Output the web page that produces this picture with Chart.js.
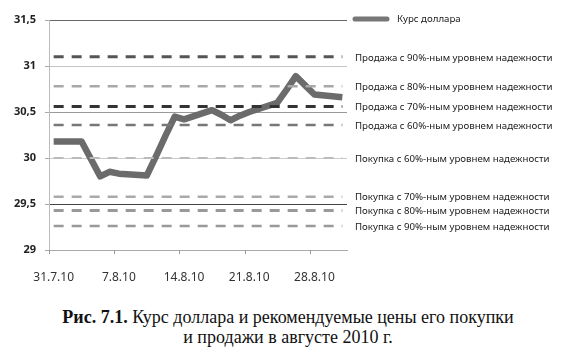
<!DOCTYPE html>
<html>
<head>
<meta charset="utf-8">
<script src="https://cdn.jsdelivr.net/npm/chart.js@4"></script>
<style>
  body { margin: 0; background: #fff; }
  #wrap { position: absolute; left: 0; top: 0; width: 568px; height: 300px; }
  .cap { position: absolute; left: 4px; width: 568px; text-align: center;
         font-family: "Liberation Serif", serif; font-size: 18px; line-height: 20px; color: #111; }
</style>
</head>
<body>
<div id="wrap"><canvas id="rateChart"></canvas></div>
<div class="cap" style="top:307px"><b>Рис. 7.1.</b> Курс доллара и рекомендуемые цены его покупки</div>
<div class="cap" style="top:327px">и продажи в августе 2010 г.</div>
<script>
// Курс доллара и уровни покупки/продажи, август 2010

const dates = ['31.7.10', '3.8.10', '4.8.10', '5.8.10', '6.8.10', '7.8.10', '10.8.10', '11.8.10',
  '12.8.10', '13.8.10', '14.8.10', '17.8.10', '18.8.10', '19.8.10', '20.8.10', '21.8.10',
  '24.8.10', '25.8.10', '26.8.10', '27.8.10', '28.8.10', '31.8.10'];
const usdRate = [30.18, 30.18, 29.99, 29.80, 29.85, 29.83, 29.81, 30.02,
  30.24, 30.45, 30.42, 30.52, 30.47, 30.41, 30.46, 30.50,
  30.60, 30.74, 30.89, 30.79, 30.69, 30.66];

const levelNames = [
  'Продажа с 90%-ным уровнем надежности',
  'Продажа с 80%-ным уровнем надежности',
  'Продажа с 70%-ным уровнем надежности',
  'Продажа с 60%-ным уровнем надежности',
  'Покупка с 60%-ным уровнем надежности',
  'Покупка с 70%-ным уровнем надежности',
  'Покупка с 80%-ным уровнем надежности',
  'Покупка с 90%-ным уровнем надежности'
];
const levelValues = [31.10, 30.78, 30.56, 30.36, 30.00, 29.58, 29.43, 29.26];

const xTickLabels = ['31.7.10', '7.8.10', '14.8.10', '21.8.10', '28.8.10'];
const yTicks = [29, 29.5, 30, 30.5, 31, 31.5];

// line looks per level
const levelStyles = [
  { color: '#555', width: 3 },
  { color: '#a8a8a8', width: 2.5 },
  { color: '#333', width: 3 },
  { color: '#777', width: 2.5 },
  { color: '#bbb', width: 2 },
  { color: '#aaa', width: 2.5 },
  { color: '#999', width: 3 },
  { color: '#999', width: 2.5 }
];
const gridColors = { 29: '#aaa', 29.5: '#444', 30: '#ccc', 30.5: '#999', 31: '#c4c4c4', 31.5: '#666' };

function dayOffset(s) {
  const p = s.split('.').map(Number);
  const t = Date.UTC(2000 + p[2], p[1] - 1, p[0]);
  const q = dates[0].split('.').map(Number);
  const t0 = Date.UTC(2000 + q[2], q[1] - 1, q[0]);
  return Math.round((t - t0) / 86400000);
}

const xs = dates.map(d => dayOffset(d) + 0.5);
const xMax = dayOffset(dates[dates.length - 1]) + 1;

const datasets = [{
  label: 'Курс доллара',
  data: usdRate.map((v, i) => ({ x: xs[i], y: v })),
  borderColor: '#6b6b6b',
  borderWidth: 6.5,
  borderJoinStyle: 'round',
  pointRadius: 0,
  order: 1
}];
levelValues.forEach((v, k) => {
  datasets.push({
    label: levelNames[k],
    data: xs.map(x => ({ x: x, y: v })),
    borderColor: levelStyles[k].color,
    borderWidth: levelStyles[k].width,
    borderDash: [10, 8],
    pointRadius: 0,
    order: 0
  });
});

const sideLabels = {
  id: 'sideLabels',
  afterDraw(chart) {
    const { ctx, chartArea, scales } = chart;
    const yS = scales.y, xS = scales.x;
    ctx.save();
    // x tick marks at week starts
    ctx.strokeStyle = '#999';
    ctx.lineWidth = 1;
    xTickLabels.forEach(l => {
      const px = Math.round(xS.getPixelForValue(dayOffset(l))) + 0.5;
      ctx.beginPath();
      ctx.moveTo(px, chartArea.bottom);
      ctx.lineTo(px, chartArea.bottom + 4);
      ctx.stroke();
    });
    // legend item
    const lx = chartArea.right + 5;
    ctx.strokeStyle = '#777';
    ctx.lineWidth = 5;
    ctx.lineCap = 'round';
    ctx.beginPath();
    ctx.moveTo(lx + 3, 19);
    ctx.lineTo(lx + 35, 19);
    ctx.stroke();
    ctx.font = '9.7px "Noto Sans"';
    ctx.fillStyle = '#1a1a1a';
    ctx.textBaseline = 'middle';
    ctx.fillText('Курс доллара', lx + 45, 19);
    // level names at their levels
    levelValues.forEach((v, k) => {
      ctx.fillText(levelNames[k], chartArea.right + 8, yS.getPixelForValue(v) + 1);
    });
    ctx.restore();
  }
};

new Chart(document.getElementById('rateChart'), {
  type: 'line',
  data: { datasets: datasets },
  options: {
    responsive: true,
    maintainAspectRatio: false,
    animation: false,
    layout: { padding: { top: 20, right: 221, left: 0, bottom: 0 } },
    plugins: { legend: { display: false }, tooltip: { enabled: false } },
    scales: {
      x: {
        type: 'linear',
        min: 0,
        max: xMax,
        afterFit: s => { s.height = 50; },
        afterBuildTicks: s => { s.ticks = xTickLabels.map(l => ({ value: dayOffset(l) + 0.5 })); },
        ticks: {
          callback: (v, i) => xTickLabels[i],
          font: { family: 'Noto Sans', size: 12 },
          color: '#333',
          padding: 12,
          maxRotation: 0,
          autoSkip: false
        },
        grid: { display: false },
        border: { color: '#aaa' }
      },
      y: {
        min: 29,
        max: 31.5,
        afterFit: s => { s.width = 49; },
        afterBuildTicks: s => { s.ticks = yTicks.map(v => ({ value: v })); },
        ticks: {
          callback: v => String(v).replace('.', ','),
          font: { family: 'Noto Sans', size: 11, weight: 'bold' },
          color: '#222',
          padding: 9
        },
        grid: {
          color: c => gridColors[c.tick ? c.tick.value : 29] || '#ccc',
          tickColor: '#aaa',
          tickLength: 4
        },
        border: { color: '#bbb' }
      }
    }
  },
  plugins: [sideLabels]
});
</script>
</body>
</html>
